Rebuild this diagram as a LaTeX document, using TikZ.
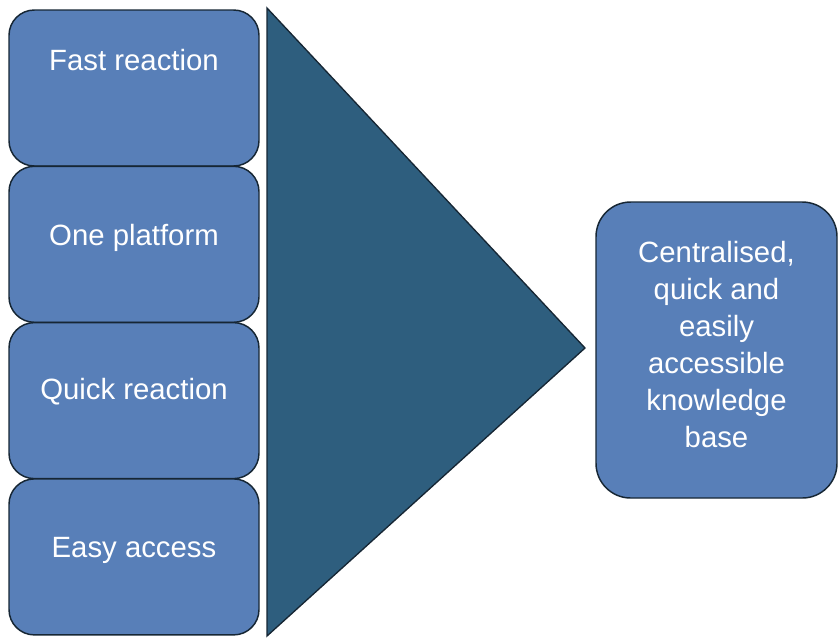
\documentclass[tikz,border=0pt]{standalone}
\usepackage{fontspec}
\setmainfont{Liberation Sans}
\usetikzlibrary{positioning}
\definecolor{tile}{RGB}{88,127,184}
\definecolor{funnel}{RGB}{46,94,126}
\definecolor{rim}{RGB}{22,38,52}
\tikzset{
  tile/.style={draw=rim,fill=tile,line width=1.1pt,rounded corners=19pt,
    minimum width=187.5pt,minimum height=117pt,inner sep=0pt},
  caption/.style={text=white,font=\fontsize{22}{27.75}\selectfont,align=center},
}

\begin{document}
\begin{tikzpicture}[x=0.75pt,y=-0.75pt]
  \useasboundingbox (0,0) rectangle (838,637);
  % stacked inputs
  \foreach \t/\ty [count=\i] in {Fast reaction/60,One platform/238,Quick reaction/392,Easy access/550}{
    \node[tile] (box\i) at (134,{88+(\i-1)*156.3}) {};
    \node[caption] (txt\i) at (134,\ty) {\t};
  }
  % funnel
  \filldraw[fill=funnel,draw=rim,line width=1pt] (267,8) -- (585,348) -- (267,636) -- cycle;
  % result
  \node[tile,minimum width=180.75pt,minimum height=222pt,rounded corners=26pt] (goal) at (716.5,350) {};
  \node[caption] (goaltxt) at (716.5,345)
    {Centralised,\\quick and\\easily\\accessible\\knowledge\\base};
\end{tikzpicture}
\end{document}
